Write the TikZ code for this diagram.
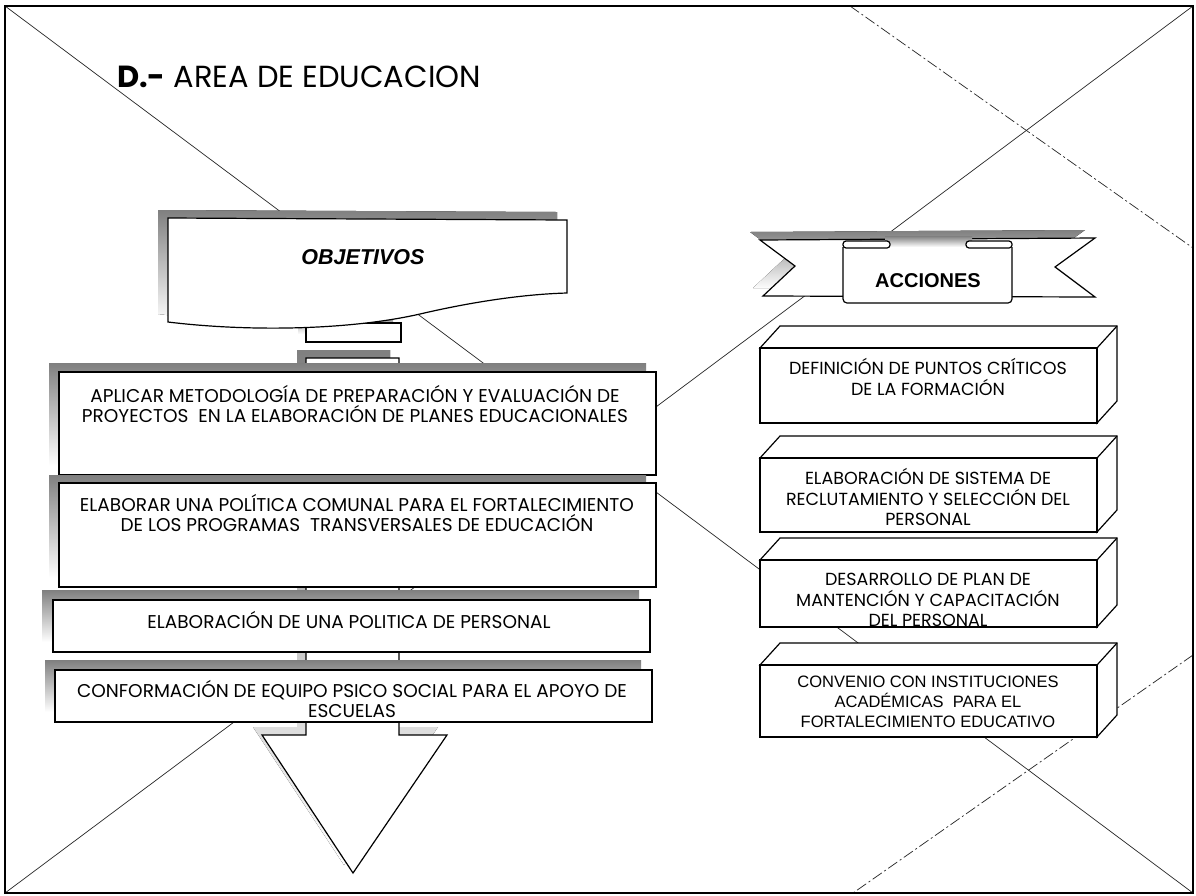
\documentclass[tikz,border=0pt]{standalone}
\usepackage{fontspec}
\setmainfont{Liberation Sans}
\newfontfamily\cg{Poppins}
\definecolor{shade}{gray}{0.28}
\newcommand{\mycuboid}[4]{%
  \filldraw[bx] (#1,#2) -- (#1+20,#2-22) -- (#3+20,#2-22) -- (#3+20,#4-22) -- (#3,#4) -- (#3,#2) -- cycle;
  \filldraw[bx] (#1,#2) rectangle (#3,#4);
  \draw[bx] (#3,#2) -- (#3+20,#2-22);}
\begin{document}
\begin{tikzpicture}[x=1pt,y=-1pt,
  bx/.style={fill=white,draw=black,line width=1.2pt},
  diag/.style={draw=black!85,line width=0.7pt},
  dsh/.style={diag,dash pattern=on 11pt off 3pt on 2pt off 3pt},
  lt/.style={font=\cg\fontsize{18.5}{20}\selectfont,align=center,inner sep=0pt},
  rt/.style={font=\cg\fontsize{17.5}{20.5}\selectfont,align=center,inner sep=0pt},
  ariatext/.style={font=\fontsize{16.5}{20}\selectfont,align=center,inner sep=0pt}]
\useasboundingbox (0,0) rectangle (1196,895);
\fill[white] (0,0) rectangle (1196,895);
% page diagonals
\coordinate (TL) at (5,6); \coordinate (TR) at (1193,6);
\coordinate (BL) at (5,893); \coordinate (BR) at (1193,893);
\draw[diag] (TL) -- (BR);
\draw[diag] (TR) -- (BL);
\coordinate (DA1) at (850,6); \coordinate (DA2) at (1193,248);
\coordinate (DB1) at (1193,655); \coordinate (DB2) at (853,893);
\draw[dsh] (DA1) -- (DA2);
\draw[dsh] (DB1) -- (DB2);
\draw[line width=2pt] (TL) rectangle (BR);
% title
\node[anchor=base west,inner sep=0pt,font=\cg\fontsize{30.5}{34}\selectfont] (title) at (117,87) {\textbf{D.-} AREA DE EDUCACION};
% big down arrow (shaft + head)
\fill[shade,shift={(-9,-8)}] (306,358) -- (399,358) -- (399,735) -- (447,735) -- (353,873) -- (262,735) -- (306,735) -- cycle;
\filldraw[bx] (306,358) -- (399,358) -- (399,735) -- (447,735) -- (353,873) -- (262,735) -- (306,735) -- cycle;
% small box under objetivos
\fill[shade] (298,315) rectangle (393,334);
\filldraw[bx] (306,323) rectangle (401,342);
% OBJETIVOS
\fill[shade,shift={(-10,-8)}] (168,218) -- (567,220) -- (567,293) .. controls (530,294) and (480,300) .. (420,314) .. controls (350,330) and (250,332) .. (168,322) -- cycle;
\filldraw[bx] (168,218) -- (567,220) -- (567,293) .. controls (530,294) and (480,300) .. (420,314) .. controls (350,330) and (250,332) .. (168,322) -- cycle;
\node[font=\bfseries\itshape\fontsize{21.5}{24}\selectfont,inner sep=0pt] (obj) at (363,257) {OBJETIVOS};
% left boxes
\fill[shade] (49,363) rectangle (646,466); \filldraw[bx] (59,372) rectangle (656,475);
\fill[shade] (49,475) rectangle (646,578); \filldraw[bx] (59,483) rectangle (656,587);
\fill[shade] (42,590) rectangle (639,642); \filldraw[bx] (53,600) rectangle (650,652);
\fill[shade] (45,660) rectangle (641,712); \filldraw[bx] (55,670) rectangle (652,722);
\node[lt] (o1) at (355,404) {APLICAR METODOLOGÍA DE PREPARACIÓN Y EVALUACIÓN DE\\PROYECTOS\ \ EN LA ELABORACIÓN DE PLANES EDUCACIONALES};
\node[lt] (o2) at (357,513) {ELABORAR UNA POLÍTICA COMUNAL PARA EL FORTALECIMIENTO\\DE LOS PROGRAMAS\ \ TRANSVERSALES DE EDUCACIÓN};
\node[lt] (o3) at (349,620) {ELABORACIÓN DE UNA POLITICA DE PERSONAL};
\node[lt] (o4) at (352,699) {CONFORMACIÓN DE EQUIPO PSICO SOCIAL PARA EL APOYO DE\\ESCUELAS};
% ACCIONES banner
\fill[shade,shift={(-10,-8)}] (760,240) -- (1095,238) -- (1055,267) -- (1095,297) -- (763,296) -- (795,266) -- cycle;
\filldraw[bx] (760,240) -- (1095,238) -- (1055,267) -- (1095,297) -- (763,296) -- (795,266) -- cycle;
\fill[shade] (885,236) rectangle (972,247);
\filldraw[bx,rounded corners=4pt] (843,247) -- (843,303) -- (1012,303) -- (1012,247);
\filldraw[bx,rounded corners=3pt] (843,241) rectangle (890,248);
\filldraw[bx,rounded corners=3pt] (966,241) rectangle (1012,248);
\node[font=\bfseries\fontsize{20}{24}\selectfont,inner sep=0pt] (acc) at (928,281) {ACCIONES};
% action boxes
\mycuboid{760}{348}{1097}{423}
\mycuboid{760}{458}{1097}{532}
\mycuboid{760}{560}{1097}{627}
\mycuboid{760}{665}{1097}{737}
\node[rt] (a1) at (928,377) {DEFINICIÓN DE PUNTOS CRÍTICOS\\DE LA FORMACIÓN};
\node[rt] (a2) at (928,497) {ELABORACIÓN DE SISTEMA DE\\RECLUTAMIENTO Y SELECCIÓN DEL\\PERSONAL};
\node[rt] (a3) at (928,600) {DESARROLLO DE PLAN DE\\MANTENCIÓN Y CAPACITACIÓN\\DEL PERSONAL};
\node[ariatext] (a4) at (928,702) {CONVENIO CON INSTITUCIONES\\ACADÉMICAS\ \ PARA EL\\FORTALECIMIENTO EDUCATIVO};
\end{tikzpicture}
\end{document}
